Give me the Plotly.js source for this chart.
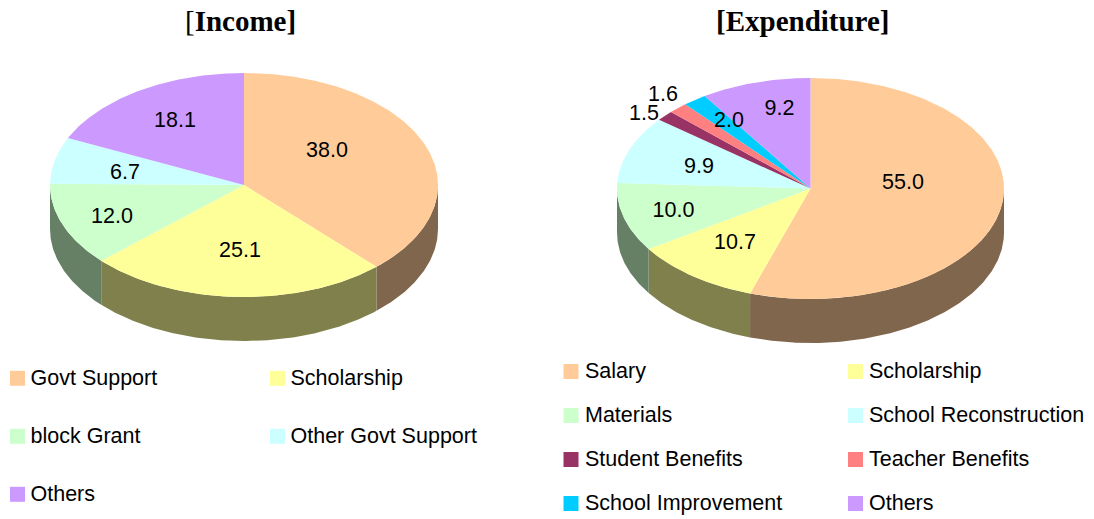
<!DOCTYPE html>
<html><head><meta charset="utf-8">
<script src="https://cdn.plot.ly/plotly-3.0.1.min.js"></script>
<style>html,body{margin:0;padding:0;background:#fff}#c{width:1094px;height:519px}</style>
</head><body><div id="c"></div>
<script>
// ---- data ----
const incomeTitle = '[<b>Income]</b>';
const incomeCategories = ['Govt Support','Scholarship','block Grant','Other Govt Support','Others'];
const incomeValues = [38.0,25.1,12.0,6.7,18.1];
const incomeColors = ['#FFCC99','#FFFF99','#CCFFCC','#CCFFFF','#CC99FF'];

const expenditureTitle = '<b>[Expenditure]</b>';
const expenditureCategories = ['Salary','Scholarship','Materials','School Reconstruction','Student Benefits','Teacher Benefits','School Improvement','Others'];
const expenditureValues = [55.0,10.7,10.0,9.9,1.5,1.6,2.0,9.2];
const expenditureColors = ['#FFCC99','#FFFF99','#CCFFCC','#CCFFFF','#993366','#FF8080','#00CCFF','#CC99FF'];

// ---- layout settings (axis units equal pixels) ----
const incomePie = {cx:244, cy:185, rx:194, ry:112, depth:44,
  labelDx:[83,-4,-132,-119,-69], labelDy:[-33.5,67,33,-11.5,-63]};
const expenditurePie = {cx:810.5, cy:188.5, rx:193.5, ry:110.5, depth:44,
  labelDx:[92.5,-75.5,-137,-111.5,-166.5,-147.5,-81.5,-31], labelDy:[-4.5,55.5,23.5,-20.5,-74,-93,-66.5,-78.5]};
const incomeLegend = {x:[17.5,277.5], y:[378.3,378.3,436.3,436.3,494.3], tx:[30.5,290.5], cols:2};
const expenditureLegend = {x:[571,855.5], y:[371.5,371.5,415.5,415.5,459.5,459.5,503.5,503.5], tx:[585,869], cols:2};
const legendTextDy = 1.5;

const FONT = 'Liberation Sans, Arial, sans-serif';
const SERIF = 'Liberation Serif, Times New Roman, serif';

function darker(hex){
  const n = parseInt(hex.slice(1),16);
  return 'rgb('+[(n>>16)&255,(n>>8)&255,n&255].map(v=>Math.round(v*0.5)).join(',')+')';
}
function pt(p,deg,dy){
  const a = deg*Math.PI/180;
  return [p.cx+p.rx*Math.sin(a), p.cy-p.ry*Math.cos(a)+(dy||0)];
}
function pieTraces(name,p,cats,vals,cols){
  const total = vals.reduce((a,b)=>a+b,0), sides=[], tops=[], labels={x:[],y:[],text:[]};
  let start = 0;
  vals.forEach((v,i)=>{
    const end = start+v/total*360;
    const sx=[], sy=[], tx=[p.cx], ty=[p.cy];
    for(let d=start; ; d+=0.5){
      const dd=Math.min(d,end), q=pt(p,dd);
      tx.push(q[0]); ty.push(q[1]);
      if(dd>=end) break;
    }
    tx.push(p.cx); ty.push(p.cy);
    const a=Math.max(start,90), b=Math.min(end,270);
    if(b>a){
      const up=[];
      for(let d=a; ; d+=0.5){ const dd=Math.min(d,b); up.push(dd); if(dd>=b) break; }
      up.forEach(d=>{const q=pt(p,d);sx.push(q[0]);sy.push(q[1]);});
      up.slice().reverse().forEach(d=>{const q=pt(p,d,p.depth);sx.push(q[0]);sy.push(q[1]);});
      sx.push(sx[0]); sy.push(sy[0]);
      sides.push({type:'scatter',mode:'lines',x:sx,y:sy,fill:'toself',fillcolor:darker(cols[i]),
        line:{width:0},hoverinfo:'skip',showlegend:false,name:cats[i]+' side'});
    }
    tops.push({type:'scatter',mode:'lines',x:tx,y:ty,fill:'toself',fillcolor:cols[i],
      line:{width:0},hoverinfo:'text',hoveron:'fills',text:cats[i]+': '+v.toFixed(1),showlegend:false,name:cats[i]});
    labels.x.push(p.cx+p.labelDx[i]); labels.y.push(p.cy+p.labelDy[i]); labels.text.push(v.toFixed(1));
    start=end;
  });
  const lab={type:'scatter',mode:'text',x:labels.x,y:labels.y,text:labels.text,textposition:'middle center',
    textfont:{family:FONT,size:21.5,color:'#000'},hoverinfo:'skip',showlegend:false,name:name+' labels'};
  return sides.concat(tops,[lab]);
}
function legendTraces(name,l,cats,cols){
  const xs=cats.map((c,i)=>l.x[i%l.cols]), ts=cats.map((c,i)=>l.tx[i%l.cols]);
  return [
   {type:'scatter',mode:'markers',x:xs,y:l.y,marker:{symbol:'square',size:15,color:cols,line:{width:0}},
    hoverinfo:'skip',showlegend:false,name:name+' keys'},
   {type:'scatter',mode:'text',x:ts,y:l.y.map(v=>v+legendTextDy),text:cats,textposition:'middle right',
    textfont:{family:FONT,size:21.5,color:'#000'},hoverinfo:'skip',showlegend:false,name:name+' names'}
  ];
}
const traces = [].concat(
  pieTraces('Income',incomePie,incomeCategories,incomeValues,incomeColors),
  pieTraces('Expenditure',expenditurePie,expenditureCategories,expenditureValues,expenditureColors),
  legendTraces('Income',incomeLegend,incomeCategories,incomeColors),
  legendTraces('Expenditure',expenditureLegend,expenditureCategories,expenditureColors)
);
const hidden={visible:false,fixedrange:true};
Plotly.newPlot('c',traces,{
  width:1094,height:519,margin:{l:0,r:0,t:0,b:0},
  paper_bgcolor:'#fff',plot_bgcolor:'#fff',showlegend:false,
  xaxis:Object.assign({range:[0,1094]},hidden),
  yaxis:Object.assign({range:[519,0]},hidden),
  annotations:[
    {text:incomeTitle,x:240.5,y:21,xref:'x',yref:'y',showarrow:false,xanchor:'center',yanchor:'middle',font:{family:SERIF,size:29,color:'#000'}},
    {text:expenditureTitle,x:802,y:21,xref:'x',yref:'y',showarrow:false,xanchor:'center',yanchor:'middle',font:{family:SERIF,size:29,color:'#000'}}
  ]
},{displayModeBar:false,staticPlot:true});
</script></body></html>
